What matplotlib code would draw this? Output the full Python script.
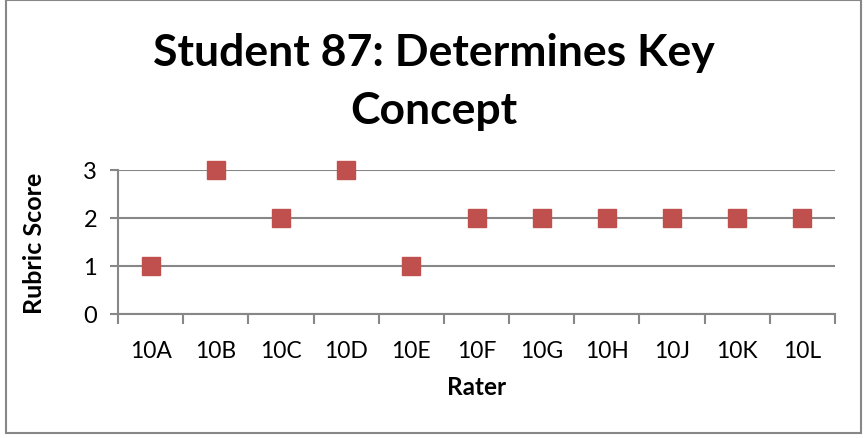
import matplotlib.pyplot as plt
import numpy as np
from matplotlib.patches import Rectangle

# datos del grafico
raters = ['10A', '10B', '10C', '10D', '10E', '10F', '10G', '10H', '10J', '10K', '10L']
scores = [1, 3, 2, 3, 1, 2, 2, 2, 2, 2, 2]

plt.rcParams['font.family'] = ['Lato', 'DejaVu Sans']

fig = plt.figure(figsize=(8.67, 4.39), dpi=100)
ax = fig.add_axes([118/867, 1 - 315/439, (835 - 118)/867, (315 - 171)/439])

x = np.arange(len(raters))
ax.plot(x, scores, 's', color='#C0504D', markersize=13.5, zorder=3, clip_on=False)

ax.set_xlim(-0.5, len(raters) - 0.5)
ax.set_ylim(0, 3)
ax.set_yticks([0, 1, 2, 3])
ax.yaxis.grid(True, color='#878787', linewidth=1.5)
ax.set_axisbelow(True)

# ticks entre categorias, etiquetas en el centro
ax.set_xticks(np.arange(-0.5, len(raters)), minor=False)
ax.set_xticklabels([])
ax.set_xticks(x, minor=True)
ax.set_xticklabels(raters, minor=True)
ax.tick_params(axis='x', which='major', length=7, width=1.5, color='#878787', direction='out')
ax.tick_params(axis='x', which='minor', length=0, pad=19, labelsize=16.5)
ax.tick_params(axis='y', length=6, width=1.5, color='#878787', pad=9, labelsize=17)

for s in ['top', 'right']:
    ax.spines[s].set_visible(False)
for s in ['left', 'bottom']:
    ax.spines[s].set_color('#878787')
    ax.spines[s].set_linewidth(1.5)

ax.set_xlabel('Rater', fontsize=17.5, fontweight='bold', labelpad=10)
ax.set_ylabel('Rubric Score', fontsize=18, fontweight='bold', labelpad=27)

fig.text(0.5, 1 - 53/439, 'Student 87: Determines Key', ha='center', va='center',
         fontsize=32, fontweight='bold')
fig.text(0.5, 1 - 111/439, 'Concept', ha='center', va='center',
         fontsize=32, fontweight='bold')

# borde del grafico
fig.patches.append(Rectangle((6/867, 5/439), 855/867, 433/439, transform=fig.transFigure,
                             fill=False, edgecolor='#878787', linewidth=1.5))

fig.savefig('out.png', dpi=100)
